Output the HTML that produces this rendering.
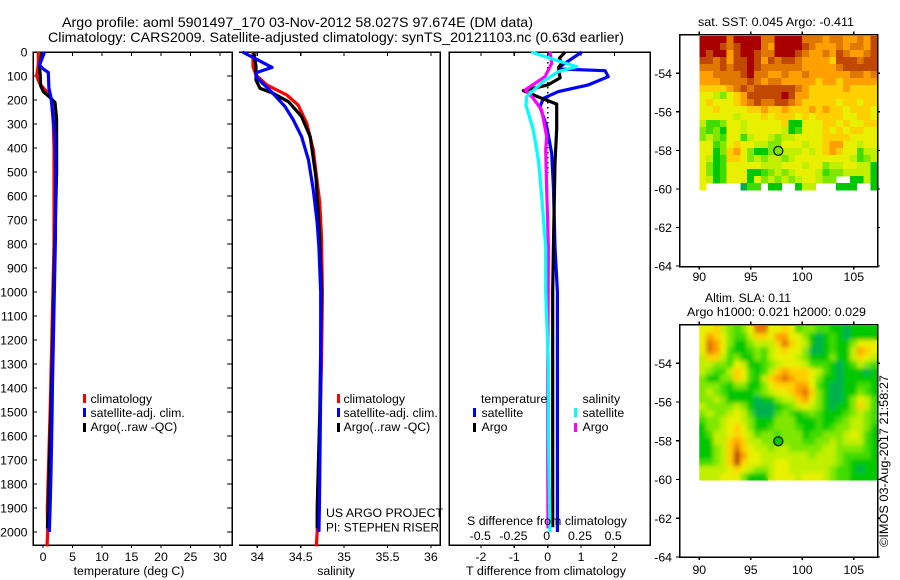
<!DOCTYPE html>
<html lang="en">
<head>
<meta charset="utf-8">
<title>Argo profile 5901497_170</title>
<style>
html,body{margin:0;padding:0;background:#fff;}
svg{display:block;font-family:"Liberation Sans",sans-serif;font-size:12.3px;fill:#000;}
.t14{font-size:14px;}
.fr{stroke:#000;stroke-width:1.5;fill:none;shape-rendering:crispEdges;}
.tick{stroke:#000;stroke-width:1.2;shape-rendering:crispEdges;}
.prof{fill:none;stroke-width:3.2;stroke-linejoin:round;stroke-linecap:butt;}
.sw{shape-rendering:crispEdges;}
</style>
</head>
<body>
<svg id="chart" width="900" height="580" viewBox="0 0 900 580">
<defs>
<filter id="soften" x="-5%" y="-5%" width="110%" height="110%"><feGaussianBlur stdDeviation="2"/></filter>
<clipPath id="slaClip"><rect x="699" y="326" width="178" height="154"/></clipPath>
</defs>
<text class="t14" x="62" y="27" textLength="471" lengthAdjust="spacingAndGlyphs">Argo profile: aoml 5901497_170 03-Nov-2012 58.027S 97.674E (DM data)</text>
<text class="t14" x="48" y="42" textLength="576" lengthAdjust="spacingAndGlyphs">Climatology: CARS2009. Satellite-adjusted climatology: synTS_20121103.nc (0.63d earlier)</text>

<g>
<path class="fr" d="M33 546V52H232V546M33 545H232"/>
<g id="p1"></g>
<text x="129" y="575" text-anchor="middle">temperature (deg C)</text>
<rect class="sw" x="83" y="394" width="3" height="9" fill="#f00"/>
<text x="90.5" y="403">climatology</text>
<rect class="sw" x="83" y="408" width="3" height="9" fill="#00f"/>
<text x="90.5" y="417">satellite-adj. clim.</text>
<rect class="sw" x="83" y="423" width="3" height="9" fill="#000"/>
<text x="90.5" y="431">Argo(..raw -QC)</text>
</g>

<g>
<path class="fr" d="M239 52H440V546M239 545H440"/>
<g id="p2"></g>
<text x="336" y="575" text-anchor="middle">salinity</text>
<rect class="sw" x="337" y="394" width="3" height="9" fill="#f00"/>
<text x="343.5" y="403">climatology</text>
<rect class="sw" x="337" y="408" width="3" height="9" fill="#00f"/>
<text x="343.5" y="417">satellite-adj. clim.</text>
<rect class="sw" x="337" y="423" width="3" height="9" fill="#000"/>
<text x="343.5" y="431">Argo(..raw -QC)</text>
<text x="326" y="517" textLength="117" lengthAdjust="spacingAndGlyphs">US ARGO PROJECT</text>
<text x="326" y="531.5" textLength="113" lengthAdjust="spacingAndGlyphs">PI: STEPHEN RISER</text>
</g>

<g>
<path class="fr" d="M449 546V52H650V546M449 545H650"/>
<g id="p3"></g>
<text x="481" y="403">temperature</text>
<text x="582.5" y="403">salinity</text>
<rect class="sw" x="473" y="408" width="3" height="9" fill="#00f"/>
<text x="481.5" y="417">satellite</text>
<rect class="sw" x="473" y="423" width="3" height="9" fill="#000"/>
<text x="481.5" y="431">Argo</text>
<rect class="sw" x="574" y="408" width="3" height="9" fill="#0ff"/>
<text x="582.5" y="417">satellite</text>
<rect class="sw" x="574" y="423" width="3" height="9" fill="#f0f"/>
<text x="582.5" y="431">Argo</text>
<text x="467" y="525" textLength="160" lengthAdjust="spacingAndGlyphs">S difference from climatology</text>
<text x="466" y="575" textLength="160" lengthAdjust="spacingAndGlyphs">T difference from climatology</text>
</g>

<g>
<text x="698" y="26" textLength="156" lengthAdjust="spacingAndGlyphs">sat. SST: 0.045 Argo: -0.411</text>
<g id="m1"></g>
</g>
<g>
<text x="705" y="302" textLength="86" lengthAdjust="spacingAndGlyphs">Altim. SLA: 0.11</text>
<text x="687" y="316" textLength="179" lengthAdjust="spacingAndGlyphs">Argo h1000: 0.021 h2000: 0.029</text>
<g id="m2"></g>
</g>
<text transform="translate(888,547) rotate(-90)" textLength="172" lengthAdjust="spacingAndGlyphs">©IMOS 03-Aug-2017 21:58:27</text>
</svg>

<script>
// ---------- axis tick values ----------
const depthTicks = [0,100,200,300,400,500,600,700,800,900,1000,1100,1200,1300,1400,1500,1600,1700,1800,1900,2000];
const tempTicks = [0,5,10,15,20,25,30];
const salTicks = [34,34.5,35,35.5,36];
const salTickLabels = ['34','34.5','35','35.5','36'];
const diffTTicks = [-2,-1,0,1,2];
const diffTTickLabels = ['-2','-1','0','1','2'];
const diffSTicks = [-0.5,-0.25,0,0.25,0.5];
const diffSTickLabels = ['-0.5','-0.25','0','0.25','0.5'];
const lonTicks = [90,95,100,105];
const latTicks = [-54,-56,-58,-60,-62,-64];

// ---------- temperature panel ----------
const tempClimDepth = [0,50,100,130,150,175,200,300,400,800,1400,1500,1700,1900,2000,2060];
const tempClimValues = [-0.8,-0.8,-1.07,-0.6,0.05,1.07,1.47,1.75,1.86,1.86,1.3,1.2,0.97,0.73,0.8,0.68];
const tempArgoDepth = [0,25,60,100,140,165,190,210,280,500,800,1400,1600,1900,1985];
const tempArgoValues = [-0.2,-0.33,-0.6,-0.45,-0.4,0.05,1.2,2.03,2.3,2.3,2.0,1.45,1.2,0.9,0.75];
const tempSatDepth = [0,55,70,85,150,190,280,360,500,780,1400,1500,1750,1900,2000];
const tempSatValues = [0.25,-0.6,0,0.9,1,1.35,1.75,2.03,2.15,2.1,1.6,1.55,1.35,1.2,1.07];

// ---------- salinity panel ----------
const salClimDepth = [0,61,96,137,179,221,297,408,630,770,1000,1300,1800,2000,2060];
const salClimValues = [33.95,33.95,33.985,34.11,34.34,34.47,34.57,34.645,34.72,34.74,34.75,34.74,34.7,34.69,34.68];
const salArgoDepth = [0,61,117,151,172,207,269,353,520,742,1000,1500,1900,1985];
const salArgoValues = [33.96,33.985,33.985,34.03,34.18,34.36,34.51,34.61,34.675,34.715,34.74,34.72,34.69,34.69];
const salSatDepth = [0,64,86,105,172,228,283,353,450,575,713,812,1000,1400,1900,2000];
const salSatValues = [33.83,34.17,33.99,33.99,34.18,34.32,34.415,34.51,34.59,34.645,34.69,34.71,34.73,34.73,34.715,34.71];

// ---------- difference panel ----------
const dTSatDepth = [0,61,71,78,103,137,165,193,228,311,422,561,812,1000,1400,2000];
const dTSatValues = [1.02,0.37,0.37,1.72,1.81,1.22,0.32,-0.13,-0.23,-0.03,0.12,0.17,0.22,0.29,0.29,0.29];
const dTArgoDepth = [0,26,47,65,108,137,161,193,217,320,463,812,1000,1300,1980];
const dTArgoValues = [0.52,0.35,0.42,0.32,0.37,0.01,-0.73,-0.18,0.27,0.27,0.22,0.17,0.15,0.15,0.15];
const dSArgoDepth = [0,47,103,158,193,242,353,408,575,812,1400,1700,1985];
const dSArgoValues = [0.017,0.03,-0.02,-0.17,-0.108,-0.045,-0.0075,-0.015,-0.0075,0.005,0,0,0.002];
const dSSatDepth = [0,33,61,82,117,186,221,325,450,603,812,1000,1300,1600,2000];
const dSSatValues = [-0.125,0.055,0.218,0.08,-0.02,-0.158,-0.163,-0.108,-0.07,-0.045,-0.015,-0.015,0.005,0.005,0.017];
const zeroLineDepth = [0,504];

// ---------- map values (colour index 0..10, -1 = no data) ----------
const sstGrid = [
[10,10,10,10,8,10,10,10,10,8,8,10,10,10,10,8,8,8,7,8,8,7,7,8,7,9],
[10,10,10,9,8,9,10,10,10,8,7,10,10,10,10,9,8,7,7,7,8,7,8,8,7,9],
[10,9,10,10,7,9,10,10,9,8,8,10,10,10,9,8,7,7,8,7,9,8,7,7,8,9],
[9,9,8,9,7,9,9,10,9,7,9,8,9,9,8,7,7,7,7,6,9,9,9,8,9,9],
[8,8,8,9,8,9,9,10,9,8,8,8,8,8,8,7,7,7,7,7,8,9,9,9,9,9],
[7,7,8,8,8,8,9,10,8,8,7,7,8,7,7,8,7,7,7,7,7,7,8,8,7,8],
[7,7,7,8,8,8,8,9,8,7,8,8,7,7,7,7,7,6,7,7,6,7,7,7,7,7],
[6,6,6,6,7,8,9,8,9,9,9,9,9,9,8,7,6,6,6,6,6,7,6,6,6,6],
[5,5,4,3,5,6,7,9,9,9,9,9,10,9,7,7,6,6,6,6,6,6,6,6,6,6],
[5,6,5,5,5,6,7,8,9,8,8,9,9,8,7,6,6,6,6,6,5,6,6,5,6,6],
[5,5,6,5,5,5,5,6,6,7,6,6,7,6,6,6,7,6,7,6,6,5,6,6,6,5],
[5,5,5,5,5,4,5,5,5,6,5,6,6,6,5,6,5,6,6,6,6,5,5,6,6,5],
[4,2,2,3,5,5,4,5,5,5,5,5,6,1,1,5,5,5,6,6,5,6,5,5,6,6],
[3,2,3,1,5,5,4,5,5,5,5,5,4,1,2,5,5,5,6,5,6,5,6,6,5,5],
[3,4,3,2,5,5,2,4,5,5,4,3,4,4,5,5,5,5,6,6,6,6,5,5,5,5],
[5,5,2,3,5,6,5,5,4,4,3,3,5,5,5,4,5,5,6,7,7,5,5,4,5,5],
[5,5,1,3,6,7,5,3,1,1,3,3,4,4,4,5,4,5,6,7,6,5,5,2,4,4],
[5,4,1,2,6,6,5,3,4,3,4,4,3,4,5,5,5,5,5,5,5,5,4,2,3,4],
[5,3,1,2,5,5,5,5,5,4,4,4,5,5,5,4,5,5,3,4,4,5,5,4,4,1],
[5,3,1,2,5,5,5,1,1,2,3,4,3,4,5,5,5,4,2,3,3,4,4,4,4,1],
[5,4,1,2,5,5,5,1,5,3,4,3,4,3,4,5,5,4,3,3,-1,-1,1,1,4,1],
[5,-1,-1,-1,-1,-1,0,2,2,-1,1,1,-1,-1,1,4,4,-1,-1,-1,1,1,1,-1,-1,1]
];
const slaGrid = [
[5,5,6,4,3,2,3,5,8,8,5,5,6,5,2,3,3,2,2,1,1,0,1,1,1,1],
[5,7,6,5,3,2,2,4,6,6,5,7,7,5,5,3,1,0,1,2,1,0,1,1,1,1],
[5,8,7,5,3,1,1,3,4,4,4,6,8,6,5,4,1,0,1,2,1,1,3,5,5,5],
[5,8,7,5,2,1,1,2,3,2,4,5,6,5,5,3,0,0,1,2,1,1,4,7,6,5],
[4,6,6,4,2,3,1,1,3,2,4,5,5,5,4,3,1,1,1,3,1,1,4,6,5,4],
[4,4,3,3,2,5,4,1,1,2,3,4,5,5,5,4,2,2,2,1,0,1,2,4,3,2],
[4,3,2,2,4,6,5,2,1,2,4,6,7,6,6,6,5,4,2,1,0,1,1,1,0,1],
[3,1,1,3,3,6,5,2,1,4,6,7,8,7,6,6,5,3,1,1,0,1,1,1,1,1],
[3,3,3,2,1,3,3,1,1,3,5,6,6,6,7,7,5,2,1,0,0,1,1,2,2,1],
[3,4,3,2,1,1,1,1,2,3,4,5,5,6,7,8,6,3,1,0,0,1,1,3,2,1],
[3,3,4,3,1,1,1,1,0,1,1,3,4,4,6,7,5,3,1,0,0,1,3,5,4,2],
[4,3,3,3,3,4,3,1,0,0,0,1,2,3,4,5,4,3,1,0,1,1,3,6,4,2],
[3,4,3,3,4,5,4,2,0,0,0,2,3,2,1,2,3,2,1,1,1,2,3,4,3,2],
[2,3,3,4,5,5,4,3,1,1,1,3,3,3,1,1,1,2,1,1,2,3,4,4,3,2],
[1,3,3,4,5,6,5,3,1,1,2,3,3,3,2,1,1,2,1,2,3,3,4,4,3,1],
[1,2,4,4,5,6,5,4,2,3,3,2,3,3,3,1,2,2,3,3,3,4,5,4,2,1],
[1,1,4,4,6,7,6,4,4,3,3,1,3,3,3,2,2,3,3,4,3,4,4,4,2,1],
[1,1,3,4,6,8,6,5,4,4,3,4,4,3,3,3,3,3,4,4,3,3,3,3,2,1],
[1,1,3,4,6,9,7,5,5,4,4,4,4,4,4,4,3,4,4,4,3,2,2,2,2,1],
[2,2,3,4,6,9,6,5,5,4,4,5,5,4,4,4,4,4,4,4,3,2,1,1,1,1],
[4,4,4,4,5,6,5,4,3,3,4,5,5,4,4,4,4,4,4,3,2,2,1,0,1,1],
[4,4,4,5,5,5,3,1,1,1,4,5,5,5,4,5,5,5,4,3,2,2,1,1,1,1]
];
const profileLon = [97.674];
const profileLat = [-58.027];
const sstAtProfile = [3];
const slaAtProfile = [1];

// ---------- scales ----------
const NS = 'http://www.w3.org/2000/svg';
const yDepth = d => 52 + 0.24 * d;
const xTemp = v => 43 + 5.9 * v;
const xSal = v => 257.3 + 86.8 * (v - 34);
const xDT = v => 547.7 + 33.4 * v;
const xDS = v => 547.7 + 133 * v;
const xLon = v => 699.3 + 10.3 * (v - 90);
const yLat1 = v => 73.3 + 19.27 * (-54 - v);
const yLat2 = v => 363.3 + 19.37 * (-54 - v);
const colorScale = ['#00b050','#00c800','#40dc00','#80e800','#c0f000','#e8f000','#ffd000','#ffa000','#e07800','#c04800','#a80000'];

function make(tag, parent, attrs, text) {
  const el = document.createElementNS(NS, tag);
  for (const k in attrs) el.setAttribute(k, attrs[k]);
  if (text !== undefined) el.textContent = text;
  parent.appendChild(el);
  return el;
}
function tick(parent, x1, y1, x2, y2, name) {
  const el = make('line', parent, {x1: x1, y1: y1, x2: x2, y2: y2, class: 'tick'});
  
  
}
function label(parent, x, y, anchor, text, name) {
  const el = make('text', parent, {x: x, y: y, 'text-anchor': anchor}, text);
  
  
}
function profile(parent, xs, ds, xf, color, name) {
  const pts = xs.map((v, i) => xf(v).toFixed(1) + ',' + yDepth(ds[i]).toFixed(1)).join(' ');
  const el = make('polyline', parent, {points: pts, stroke: color, class: 'prof'});
  
  
}

// ---------- panel 1 ----------
const p1 = document.getElementById('p1');
depthTicks.forEach(d => {
  tick(p1, 33, yDepth(d), 37, yDepth(d), 'depth-tick-left');
  tick(p1, 227, yDepth(d), 232, yDepth(d), 'depth-tick-right');
  label(p1, 27.5, yDepth(d) + 4.5, 'end', String(d), 'depth-tick-label');
});
tempTicks.forEach(v => {
  tick(p1, xTemp(v), 52, xTemp(v), 56, 'temperature-tick-top');
  tick(p1, xTemp(v), 545, xTemp(v), 548, 'temperature-tick-bottom');
  label(p1, xTemp(v), 561, 'middle', String(v), 'temperature-tick-label');
});
profile(p1, tempClimValues, tempClimDepth, xTemp, '#f00', 'temperature-climatology-line');
profile(p1, tempArgoValues, tempArgoDepth, xTemp, '#000', 'temperature-argo-line');
profile(p1, tempSatValues, tempSatDepth, xTemp, '#00f', 'temperature-satellite-line');

// ---------- panel 2 ----------
const p2 = document.getElementById('p2');
salTicks.forEach((v, i) => {
  tick(p2, xSal(v), 52, xSal(v), 56, 'salinity-tick-top');
  tick(p2, xSal(v), 545, xSal(v), 548, 'salinity-tick-bottom');
  label(p2, xSal(v), 561, 'middle', salTickLabels[i], 'salinity-tick-label');
});
profile(p2, salClimValues, salClimDepth, xSal, '#f00', 'salinity-climatology-line');
profile(p2, salArgoValues, salArgoDepth, xSal, '#000', 'salinity-argo-line');
profile(p2, salSatValues, salSatDepth, xSal, '#00f', 'salinity-satellite-line');

// ---------- panel 3 ----------
const p3 = document.getElementById('p3');
diffTTicks.forEach((v, i) => {
  tick(p3, xDT(v), 52, xDT(v), 56, 'difference-tick-top');
  tick(p3, xDT(v), 545, xDT(v), 548, 'difference-tick-bottom');
  label(p3, xDT(v), 561, 'middle', diffTTickLabels[i], 't-difference-tick-label');
});
diffSTicks.forEach((v, i) => {
  label(p3, xDS(v) - 1, 540, 'middle', diffSTickLabels[i], 's-difference-tick-label');
});
const zeroLine = make('line', p3, {x1: xDT(0), x2: xDT(0), y1: yDepth(zeroLineDepth[0]), y2: yDepth(zeroLineDepth[1]), stroke: '#000', 'stroke-width': 1.3, 'stroke-dasharray': '1.5 3.5', 'shape-rendering': 'crispEdges'});


profile(p3, dTSatValues, dTSatDepth, xDT, '#00f', 't-difference-satellite-line');
profile(p3, dTArgoValues, dTArgoDepth, xDT, '#000', 't-difference-argo-line');
profile(p3, dSArgoValues, dSArgoDepth, xDS, '#f0f', 's-difference-argo-line');
profile(p3, dSSatValues, dSSatDepth, xDS, '#0ff', 's-difference-satellite-line');

// ---------- maps ----------
function drawMap(host, grid, yLat, top, frameTop, frameBottom, labelY, sample, prefix, smooth) {
  const cw = 178 / grid[0].length, ch = 7;
  const cells = make('g', host, {id: prefix + '-cells'});
  
  
  grid.forEach((row, r) => {
    row.forEach((v, c) => {
      if (v < 0) return;
      const cell = make('rect', cells, {x: (699.3 + c * cw).toFixed(2), y: top + r * ch, width: (cw + 0.3).toFixed(2), height: ch + 0.3, fill: colorScale[v], 'shape-rendering': 'crispEdges'});
      
      
    });
  });
  if (smooth) {
    const wrap = make('g', host, {'clip-path': 'url(#slaClip)'});
    
    
    const soft = make('g', wrap, {filter: 'url(#soften)'});
    soft.appendChild(cells.cloneNode(true)).removeAttribute('id');
  }
  const fr = make('rect', host, {x: 679.5, y: frameTop, width: 198, height: frameBottom - frameTop, class: 'fr'});
  
  
  lonTicks.forEach(v => {
    tick(host, xLon(v), frameTop - 3, xLon(v), frameTop, 'longitude-tick-top');
    tick(host, xLon(v), frameBottom, xLon(v), frameBottom + 3, 'longitude-tick-bottom');
    label(host, xLon(v), labelY, 'middle', String(v), 'longitude-tick-label');
  });
  latTicks.forEach(v => {
    tick(host, 676, yLat(v), 679, yLat(v), 'latitude-tick-left');
    tick(host, 878, yLat(v), 880, yLat(v), 'latitude-tick-right');
    label(host, 672, yLat(v) + 4.5, 'end', String(v), 'latitude-tick-label');
  });
  const mk = make('circle', host, {cx: xLon(profileLon[0]), cy: yLat(profileLat[0]), r: 4.5, fill: colorScale[sample[0]], stroke: '#000', 'stroke-width': 1.2});
  
  
}
drawMap(document.getElementById('m1'), sstGrid, yLat1, 36, 34.5, 266.5, 281, sstAtProfile, 'sst', false);
drawMap(document.getElementById('m2'), slaGrid, yLat2, 326, 324.5, 557, 574, slaAtProfile, 'sla', true);
</script>
</body>
</html>
